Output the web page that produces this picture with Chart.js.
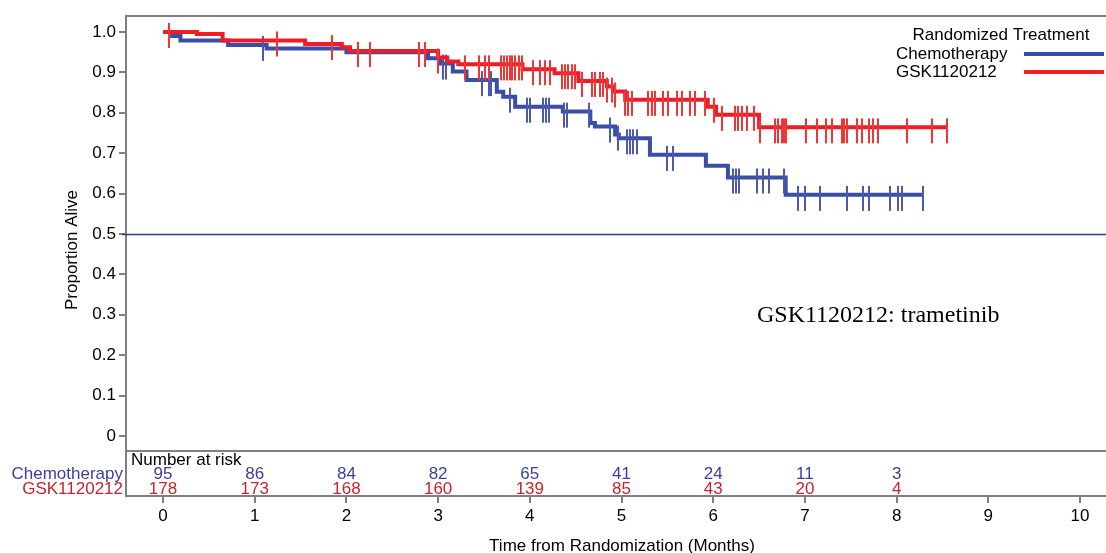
<!DOCTYPE html>
<html>
<head>
<meta charset="utf-8">
<script src="https://cdn.jsdelivr.net/npm/chart.js@4.4.1/dist/chart.umd.min.js"></script>
<style>
html, body { margin: 0; padding: 0; background: #fff; overflow: hidden; }
#wrap { width: 1106px; height: 553px; position: relative; }
</style>
</head>
<body>
<div id="wrap"><canvas id="km"></canvas></div>
<script>
// KM steps (time in months, proportion alive)
var chemoTime = [0, 0.10, 0.19, 0.71, 1.13, 2.00, 2.89, 3.02, 3.16, 3.31, 3.64, 3.71, 3.84, 4.36, 4.66, 4.71, 4.93, 4.97, 5.31, 5.92, 6.16, 6.79, 8.29];
var chemoSurv = [1.0, 0.990, 0.979, 0.968, 0.959, 0.950, 0.935, 0.922, 0.902, 0.881, 0.852, 0.840, 0.815, 0.803, 0.775, 0.766, 0.746, 0.737, 0.696, 0.669, 0.640, 0.597, 0.597];
var gskTime = [0, 0.37, 0.65, 1.55, 1.95, 2.04, 3.00, 3.10, 3.22, 3.92, 4.27, 4.53, 4.84, 4.92, 5.04, 5.94, 6.03, 6.50, 8.55];
var gskSurv = [1.0, 0.995, 0.979, 0.970, 0.962, 0.953, 0.937, 0.927, 0.920, 0.908, 0.898, 0.879, 0.865, 0.853, 0.832, 0.815, 0.795, 0.764, 0.764];

// censored times
var chemoCensor = [0.07, 1.09, 3.05, 3.09, 3.48, 3.55, 3.58, 3.78, 3.97, 4.00, 4.14, 4.18, 4.21, 4.37, 4.41, 4.65, 4.87, 4.96,
  5.06, 5.09, 5.13, 5.17, 5.50, 5.56, 6.22, 6.25, 6.28, 6.48, 6.54, 6.61, 6.77, 6.92, 7.00, 7.16, 7.46, 7.63, 7.70, 7.93, 8.02, 8.06, 8.29];
var gskCensor = [0.06, 1.24, 1.84, 2.13, 2.26, 2.79, 2.86, 3.00, 3.29, 3.45, 3.51, 3.55, 3.69, 3.72, 3.75, 3.78, 3.81, 3.84, 3.88, 3.91,
  4.03, 4.11, 4.17, 4.22, 4.35, 4.38, 4.42, 4.46, 4.49, 4.57, 4.68, 4.71, 4.77, 4.80, 4.84, 4.90, 4.93, 5.04, 5.07, 5.11,
  5.29, 5.33, 5.37, 5.45, 5.51, 5.61, 5.66, 5.75, 5.80, 5.91, 6.01, 6.10, 6.24, 6.27, 6.31, 6.37, 6.44, 6.51, 6.67, 6.71,
  6.75, 6.77, 6.79, 7.01, 7.13, 7.23, 7.30, 7.40, 7.43, 7.46, 7.57, 7.62, 7.70, 7.74, 7.80, 8.11, 8.39, 8.55];

// number at risk
var riskTimes = [0, 1, 2, 3, 4, 5, 6, 7, 8];
var riskChemo = [95, 86, 84, 82, 65, 41, 24, 11, 3];
var riskGsk = [178, 173, 168, 160, 139, 85, 43, 20, 4];

var xTicks = [0, 1, 2, 3, 4, 5, 6, 7, 8, 9, 10];
var yTicks = [0, 0.1, 0.2, 0.3, 0.4, 0.5, 0.6, 0.7, 0.8, 0.9, 1.0];

var BLUE = '#3a4ea8', RED = '#ee1c25';
var FONT = '"Liberation Sans", Arial, sans-serif';

function survAt(times, surv, t) {
  var s = surv[0];
  for (var i = 0; i < times.length; i++) if (times[i] <= t + 1e-9) s = surv[i];
  return s;
}
function pts(times, surv) {
  return times.map(function (t, i) { return { x: t, y: surv[i] }; });
}
function censorPts(c, times, surv) {
  return c.map(function (t) { return { x: t, y: survAt(times, surv, t) }; });
}
// censor mark: vertical bar, longer below the line than above
function tickImg(color) {
  var c = document.createElement('canvas');
  c.width = 2; c.height = 50;
  var g = c.getContext('2d');
  g.fillStyle = color;
  g.fillRect(0, 16, 2, 25);
  return c;
}

var extras = {
  id: 'extras',
  beforeDatasetsDraw: function (chart) {
    var ctx = chart.ctx, a = chart.chartArea, ys = chart.scales.y;
    ctx.save();
    // reference line at 0.5
    var y5 = Math.round(ys.getPixelForValue(0.5)) + 0.5;
    ctx.strokeStyle = '#2e3a8c'; ctx.lineWidth = 1.5;
    ctx.beginPath(); ctx.moveTo(a.left - 4, y5); ctx.lineTo(a.right, y5); ctx.stroke();
    ctx.restore();
  },
  afterDraw: function (chart) {
    var ctx = chart.ctx, a = chart.chartArea, xs = chart.scales.x, ys = chart.scales.y;
    ctx.save();
    ctx.strokeStyle = '#808080'; ctx.lineWidth = 2;
    // top frame and risk panel divider
    ctx.beginPath(); ctx.moveTo(a.left, a.top); ctx.lineTo(a.right, a.top); ctx.stroke();
    var yd = Math.round(ys.getPixelForValue(-0.037));
    ctx.beginPath(); ctx.moveTo(a.left, yd); ctx.lineTo(a.right, yd); ctx.stroke();

    ctx.textBaseline = 'middle';
    ctx.font = '17px ' + FONT;
    ctx.fillStyle = '#000'; ctx.textAlign = 'left';
    ctx.fillText('Number at risk', a.left + 5, a.bottom - 36);
    ctx.textAlign = 'center';
    riskTimes.forEach(function (t, i) {
      var x = xs.getPixelForValue(t);
      ctx.fillStyle = '#3b3f9e'; ctx.fillText(riskChemo[i], x, a.bottom - 22);
      ctx.fillStyle = '#c4262e'; ctx.fillText(riskGsk[i], x, a.bottom - 7);
    });
    ctx.textAlign = 'right';
    ctx.fillStyle = '#3b3f9e'; ctx.fillText('Chemotherapy', a.left - 3, a.bottom - 22);
    ctx.fillStyle = '#c4262e'; ctx.fillText('GSK1120212', a.left - 3, a.bottom - 7);

    // axis titles
    ctx.fillStyle = '#000'; ctx.textAlign = 'center';
    ctx.fillText('Time from Randomization (Months)', 622, 546);
    ctx.save();
    ctx.translate(72, 250);
    ctx.rotate(-Math.PI / 2);
    ctx.fillText('Proportion Alive', 0, 0);
    ctx.restore();

    // legend
    ctx.fillText('Randomized Treatment', 1001, 35);
    ctx.textAlign = 'left';
    ctx.fillText('Chemotherapy', 896, 54);
    ctx.fillText('GSK1120212', 896, 72);
    ctx.lineWidth = 4;
    ctx.strokeStyle = BLUE;
    ctx.beginPath(); ctx.moveTo(1024, 54); ctx.lineTo(1104, 54); ctx.stroke();
    ctx.strokeStyle = RED;
    ctx.beginPath(); ctx.moveTo(1024, 72); ctx.lineTo(1104, 72); ctx.stroke();

    // annotation
    ctx.font = '24px "Liberation Serif", "Times New Roman", serif';
    ctx.fillText('GSK1120212: trametinib', 757, 316);
    ctx.restore();
  }
};

new Chart(document.getElementById('km'), {
  type: 'line',
  data: {
    datasets: [
      { label: 'GSK1120212 censored', data: censorPts(gskCensor, gskTime, gskSurv), showLine: false,
        pointStyle: tickImg('#ef3535'), pointRadius: 5 },
      { label: 'GSK1120212', data: pts(gskTime, gskSurv), borderColor: RED, borderWidth: 4,
        stepped: true, pointRadius: 0, fill: false },
      { label: 'Chemotherapy censored', data: censorPts(chemoCensor, chemoTime, chemoSurv), showLine: false,
        pointStyle: tickImg('#4b5aab'), pointRadius: 5 },
      { label: 'Chemotherapy', data: pts(chemoTime, chemoSurv), borderColor: BLUE, borderWidth: 4,
        stepped: true, pointRadius: 0, fill: false }
    ]
  },
  options: {
    responsive: true,
    maintainAspectRatio: false,
    animation: false,
    devicePixelRatio: 1,
    layout: { autoPadding: false, padding: { top: 16, left: 0, right: 0, bottom: 0 } },
    plugins: { legend: { display: false }, tooltip: { enabled: false } },
    scales: {
      x: {
        type: 'linear', min: -0.4035, max: 10.283,
        afterBuildTicks: function (s) { s.ticks = xTicks.map(function (v) { return { value: v }; }); },
        afterFit: function (s) { s.height = 57; s.paddingLeft = 0; s.paddingRight = 0; },
        grid: { drawOnChartArea: false, drawTicks: true, tickLength: 7, color: '#808080', lineWidth: 2 },
        border: { color: '#808080', width: 2 },
        ticks: { color: '#000', font: { size: 17, family: FONT }, padding: 3, maxRotation: 0, autoSkip: false }
      },
      y: {
        type: 'linear', min: -0.1485, max: 1.0396,
        afterBuildTicks: function (s) { s.ticks = yTicks.map(function (v) { return { value: v }; }); },
        afterFit: function (s) { s.width = 126; s.paddingTop = 0; s.paddingBottom = 0; },
        grid: { drawOnChartArea: false, drawTicks: true, tickLength: 7, color: '#808080', lineWidth: 2 },
        border: { color: '#808080', width: 2 },
        ticks: { color: '#000', font: { size: 17, family: FONT }, padding: 3, autoSkip: false,
          callback: function (v) { return v === 0 ? '0' : v.toFixed(1); } }
      }
    }
  },
  plugins: [extras]
});
</script>
</body>
</html>
